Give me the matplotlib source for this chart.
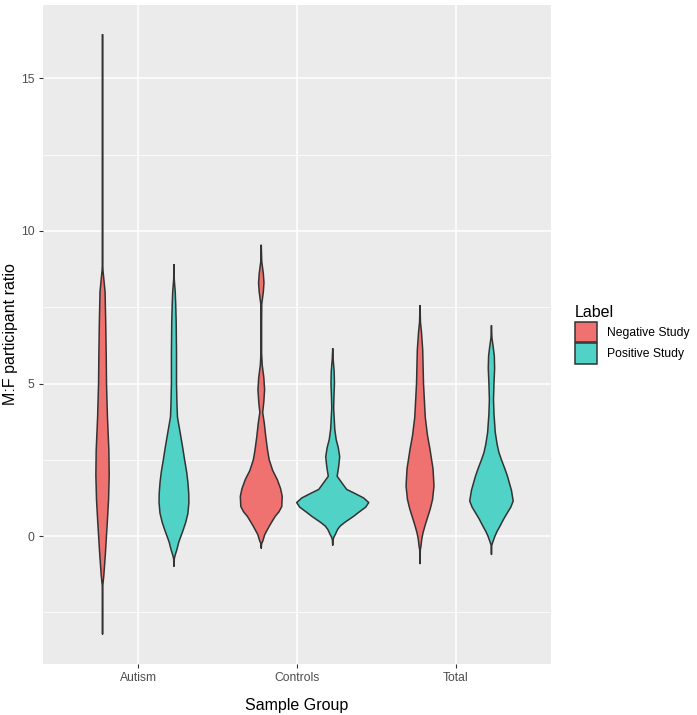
import numpy as np
import matplotlib.pyplot as plt
from matplotlib.patches import Patch

# categories and groups
groups = ['Autism', 'Controls', 'Total']
labels = ['Negative Study', 'Positive Study']
fill_cols = ['#F07270', '#50D2C7']

# violin outlines: y value and half width (x axis units)
an_y = [16.42, 12.0, 9.0, 8.7, 8.0, 7.0, 6.0, 5.0, 3.9, 2.8, 2.0, 1.2, 0.45, -0.65, -1.3, -1.6, -2.0, -3.21]
an_w = [0, 0, 0, 0.003, 0.016, 0.020, 0.023, 0.025, 0.031, 0.040, 0.042, 0.038, 0.030, 0.017, 0.008, 0.002, 0, 0]

ap_y = [8.88, 8.4, 8.0, 7.6, 7.0, 6.0, 5.0, 4.3, 3.9, 3.3, 2.9, 2.5, 2.1, 1.75, 1.4, 1.1, 0.75, 0.45, 0.2, 0.0, -0.2, -0.43, -0.65, -0.75, -0.99]
ap_w = [0, 0.002, 0.008, 0.011, 0.014, 0.016, 0.016, 0.019, 0.022, 0.042, 0.055, 0.067, 0.080, 0.088, 0.093, 0.094, 0.088, 0.074, 0.058, 0.044, 0.030, 0.019, 0.006, 0.002, 0]

cn_y = [9.52, 9.0, 8.6, 8.3, 8.0, 7.6, 7.0, 6.0, 5.6, 5.2, 4.8, 4.4, 4.05, 3.7, 3.27, 2.8, 2.5, 2.15, 1.85, 1.55, 1.3, 0.97, 0.8, 0.65, 0.48, 0.32, 0.15, 0.05, -0.17, -0.25, -0.4]
cn_w = [0, 0.003, 0.013, 0.017, 0.013, 0.003, 0.002, 0.002, 0.006, 0.016, 0.021, 0.016, 0.009, 0.019, 0.028, 0.040, 0.050, 0.072, 0.101, 0.122, 0.132, 0.129, 0.112, 0.088, 0.068, 0.050, 0.032, 0.022, 0.009, 0.002, 0]

cp_y = [6.13, 5.8, 5.4, 5.0, 4.6, 4.2, 3.9, 3.5, 3.16, 2.9, 2.6, 2.3, 1.96, 1.75, 1.53, 1.4, 1.25, 1.1, 0.95, 0.78, 0.65, 0.45, 0.33, 0.22, 0.05, -0.05, -0.12, -0.3]
cp_w = [0, 0.003, 0.009, 0.011, 0.008, 0.006, 0.009, 0.013, 0.022, 0.035, 0.044, 0.038, 0.028, 0.057, 0.088, 0.139, 0.195, 0.227, 0.208, 0.164, 0.132, 0.076, 0.047, 0.031, 0.016, 0.006, 0.002, 0]

tn_y = [7.54, 7.0, 6.7, 6.1, 5.0, 3.9, 3.3, 2.84, 2.2, 1.64, 1.2, 0.9, 0.65, 0.35, 0.11, -0.1, -0.33, -0.45, -0.9]
tn_w = [0, 0.003, 0.009, 0.017, 0.022, 0.033, 0.047, 0.063, 0.082, 0.088, 0.079, 0.065, 0.050, 0.032, 0.019, 0.011, 0.006, 0.002, 0]

tp_y = [6.88, 6.5, 6.2, 5.9, 5.5, 5.0, 4.47, 4.0, 3.4, 3.0, 2.74, 2.5, 2.2, 1.96, 1.5, 1.15, 0.95, 0.77, 0.55, 0.33, 0.15, 0.0, -0.2, -0.3, -0.6]
tp_w = [0, 0.003, 0.011, 0.018, 0.020, 0.016, 0.013, 0.016, 0.024, 0.036, 0.047, 0.063, 0.085, 0.101, 0.126, 0.137, 0.122, 0.101, 0.076, 0.054, 0.035, 0.022, 0.008, 0.002, 0]

violins = [
    (0, 0, an_y, an_w), (0, 1, ap_y, ap_w),
    (1, 0, cn_y, cn_w), (1, 1, cp_y, cp_w),
    (2, 0, tn_y, tn_w), (2, 1, tp_y, tp_w),
]
dodge = 0.225

plt.rcParams['font.family'] = ['Liberation Sans', 'DejaVu Sans']

fig = plt.figure(figsize=(6.97, 7.15), dpi=100)
ax = fig.add_axes([0.0617, 0.0713, 0.7288, 0.9217])
ax.set_facecolor('#EBEBEB')

for gi, li, ys, ws in violins:
    c = gi + (li * 2 - 1) * dodge
    ys = np.array(ys)
    ws = np.array(ws)
    ax.fill_betweenx(ys, c - ws, c + ws, facecolor=fill_cols[li], edgecolor='none', zorder=3)
    xs = np.concatenate([c - ws, (c + ws)[::-1], [c - ws[0]]])
    yy = np.concatenate([ys, ys[::-1], [ys[0]]])
    ax.plot(xs, yy, color='#333333', lw=1.1, zorder=4, solid_joinstyle='round')

ax.set_xlim(-0.6, 2.6)
ax.set_ylim(-4.19, 17.40)
ax.set_xticks(range(3))
ax.set_xticklabels(groups)
ax.set_yticks([0, 5, 10, 15])
ax.set_yticks([-2.5, 2.5, 7.5, 12.5], minor=True)
ax.grid(True, which='major', color='white', lw=1.1, zorder=0)
ax.grid(True, which='minor', axis='y', color='white', lw=0.55, zorder=0)
ax.set_axisbelow(True)
for s in ax.spines.values():
    s.set_visible(False)
ax.tick_params(which='major', length=3, width=0.8, color='#333333', labelcolor='#4D4D4D', labelsize=8.7, pad=3)
ax.tick_params(which='minor', length=0)

ax.set_xlabel('Sample Group', fontsize=11.5, color='black', labelpad=10)
ax.set_ylabel('M:F participant ratio', fontsize=11.5, color='black', labelpad=2.5)

handles = [Patch(facecolor=fill_cols[i], edgecolor='#333333', lw=1.1, label=labels[i]) for i in range(2)]
leg = ax.legend(handles=handles, title='Label', loc='center left', bbox_to_anchor=(1.047, 0.5),
                frameon=False, fontsize=8.7, title_fontsize=11.5, handlelength=1.85, handleheight=2.2,
                labelspacing=0.12, handletextpad=0.8, borderaxespad=0, borderpad=0)
leg._legend_box.align = 'left'

fig.savefig('out.png', dpi=100)
